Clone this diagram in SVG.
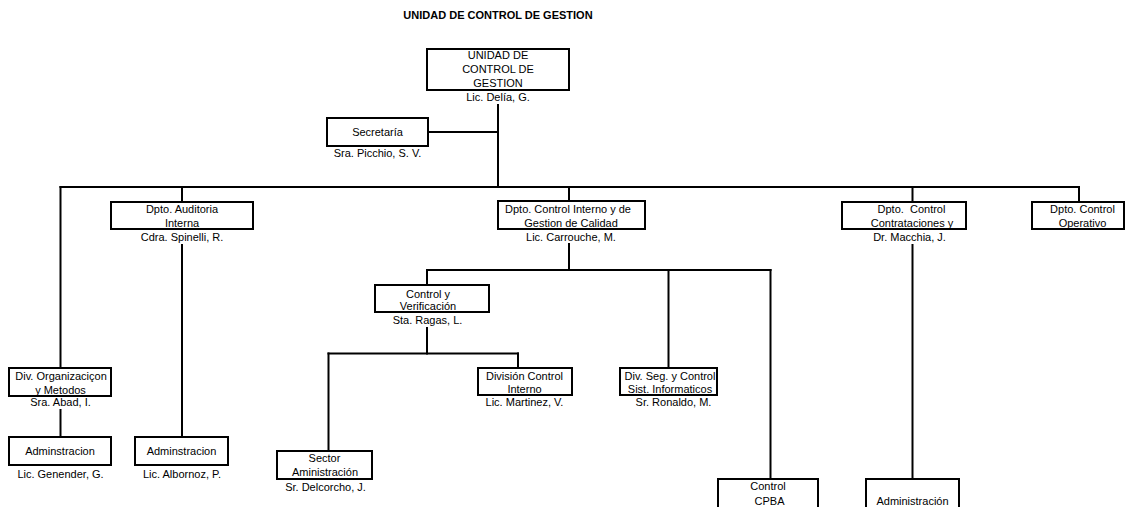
<svg xmlns="http://www.w3.org/2000/svg" width="1126" height="507" viewBox="0 0 1126 507">
<style>
  text { font-family: "Liberation Sans", Arial, sans-serif; font-size: 11px; fill: #000; text-anchor: middle; }
  .title { font-weight: bold; }
  .box { fill: #fff; stroke: #000; stroke-width: 2; }
  .conn line { stroke: #000; stroke-width: 2; stroke-linecap: square; }
</style>
<rect width="1126" height="507" fill="#fff"/>
<text class="title" x="498" y="19">UNIDAD DE CONTROL DE GESTION</text>

<g id="connectors" class="conn">
  <line x1="498" y1="105" x2="498" y2="187"/>
  <line x1="428" y1="132" x2="498" y2="132"/>
  <line x1="60.5" y1="187" x2="1079" y2="187"/>
  <line x1="182" y1="187" x2="182" y2="202"/>
  <line x1="569" y1="187" x2="569" y2="201"/>
  <line x1="912.5" y1="187" x2="912.5" y2="202"/>
  <line x1="1079" y1="187" x2="1079" y2="202"/>
  <line x1="60.5" y1="187" x2="60.5" y2="368"/>
  <line x1="60.5" y1="410" x2="60.5" y2="437"/>
  <line x1="182" y1="245" x2="182" y2="437"/>
  <line x1="569" y1="244" x2="569" y2="270"/>
  <line x1="427" y1="270" x2="770.5" y2="270"/>
  <line x1="427" y1="270" x2="427" y2="285"/>
  <line x1="668.5" y1="270" x2="668.5" y2="368"/>
  <line x1="770.5" y1="270" x2="770.5" y2="479"/>
  <line x1="427" y1="328" x2="427" y2="353.5"/>
  <line x1="328.5" y1="353.5" x2="518" y2="353.5"/>
  <line x1="328.5" y1="353.5" x2="328.5" y2="451"/>
  <line x1="518" y1="353.5" x2="518" y2="368"/>
  <line x1="912.5" y1="245" x2="912.5" y2="479"/>
</g>

<g id="unidad">
  <rect class="box" x="427" y="49" width="142" height="41"/>
  <text x="498" y="59">UNIDAD DE</text>
  <text x="498" y="73">CONTROL DE</text>
  <text x="498" y="86.5">GESTION</text>
  <text x="498" y="100.5">Lic. Delía, G.</text>
</g>

<g id="secretaria">
  <rect class="box" x="327" y="118" width="101" height="28"/>
  <text x="377.5" y="136">Secretaría</text>
  <text x="377.5" y="157">Sra. Picchio, S. V.</text>
</g>

<g id="auditoria">
  <rect class="box" x="111" y="202" width="142" height="27"/>
  <text x="182" y="213">Dpto. Auditoria</text>
  <text x="182" y="226.5">Interna</text>
  <text x="182" y="241">Cdra. Spinelli, R.</text>
</g>

<g id="control-interno">
  <rect class="box" x="498" y="201" width="147" height="28"/>
  <text x="568" y="213">Dpto. Control Interno y de</text>
  <text x="571" y="226.5">Gestion de Calidad</text>
  <text x="571" y="241">Lic. Carrouche, M.</text>
</g>

<g id="contrataciones">
  <rect class="box" x="842" y="202" width="124" height="27"/>
  <text x="911.5" y="213" xml:space="preserve">Dpto.  Control</text>
  <text x="912" y="226.5">Contrataciones y</text>
  <text x="909.5" y="241">Dr. Macchia, J.</text>
</g>

<g id="operativo">
  <rect class="box" x="1032" y="202" width="92" height="27"/>
  <text x="1082.5" y="213">Dpto. Control</text>
  <text x="1082.5" y="226.5">Operativo</text>
</g>

<g id="organizacion">
  <rect class="box" x="9" y="368" width="102" height="28"/>
  <text x="61" y="380">Div. Organizaciçon</text>
  <text x="60.5" y="393.5">y Metodos</text>
  <text x="60.5" y="405.5">Sra. Abad, I.</text>
</g>

<g id="adminstracion-1">
  <rect class="box" x="9" y="437" width="102" height="28"/>
  <text x="60" y="454.5">Adminstracion</text>
  <text x="60.5" y="478">Lic. Genender, G.</text>
</g>

<g id="adminstracion-2">
  <rect class="box" x="135" y="437" width="93" height="28"/>
  <text x="181.5" y="454.5">Adminstracion</text>
  <text x="182" y="478">Lic. Albornoz, P.</text>
</g>

<g id="control-verificacion">
  <rect class="box" x="375" y="285" width="114" height="27"/>
  <text x="428" y="298">Control y</text>
  <text x="428" y="310">Verificación</text>
  <text x="427.5" y="324">Sta. Ragas, L.</text>
</g>

<g id="sector-administracion">
  <rect class="box" x="277" y="451" width="95" height="28"/>
  <text x="324.5" y="462">Sector</text>
  <text x="325" y="476">Aministración</text>
  <text x="325.5" y="490.5">Sr. Delcorcho, J.</text>
</g>

<g id="division-control-interno">
  <rect class="box" x="478" y="368" width="94" height="27"/>
  <text x="524.5" y="380">División Control</text>
  <text x="524.5" y="393">Interno</text>
  <text x="524.5" y="405.5">Lic. Martinez, V.</text>
</g>

<g id="div-seg-control">
  <rect class="box" x="620" y="368" width="97" height="27"/>
  <text x="670" y="380">Div. Seg. y Control</text>
  <text x="670" y="393">Sist. Informaticos</text>
  <text x="673.5" y="405.5">Sr. Ronaldo, M.</text>
</g>

<g id="control-cpba">
  <rect class="box" x="718" y="479" width="100" height="32"/>
  <text x="768" y="490">Control</text>
  <text x="769.5" y="504.5">CPBA</text>
</g>

<g id="administracion">
  <rect class="box" x="866" y="479" width="93" height="32"/>
  <text x="912.5" y="505">Administración</text>
</g>
</svg>
